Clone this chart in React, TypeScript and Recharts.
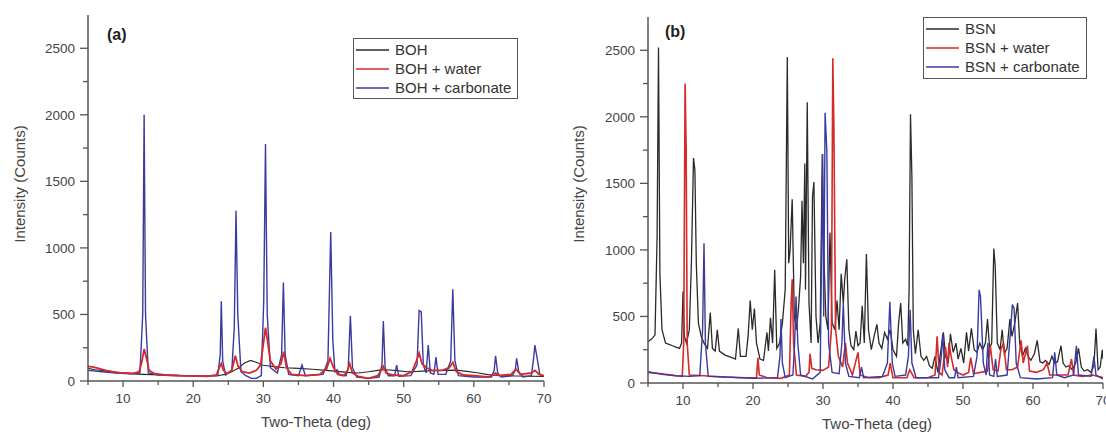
import React from 'react';
import { LineChart, Line, XAxis, YAxis, Legend } from 'recharts';

type Pt = [number, number];

// ---------- axes ----------
const THETA_TICKS = [5, 10, 15, 20, 25, 30, 35, 40, 45, 50, 55, 60, 65, 70];
const COUNT_TICKS = [0, 250, 500, 750, 1000, 1250, 1500, 1750, 2000, 2250, 2500];
const THETA_DOMAIN: [number, number] = [5, 70];
const COUNT_DOMAIN: [number, number] = [0, 2750];
const X_TITLE = 'Two-Theta (deg)';
const Y_TITLE = 'Intensity (Counts)';

// ---------- panel (a) ----------
const BOH: Pt[] = [
  [5, 95], [6, 85], [7, 80], [8, 70], [9, 62], [10, 58], [11, 55], [12, 52], [14, 48], [16, 45], [18, 42],
  [20, 40], [22, 38], [23.5, 40], [24.5, 50], [25.5, 70], [26.5, 100], [27.3, 135], [28.2, 155], [29, 140],
  [29.8, 120], [30.5, 115], [31.5, 108], [33, 100], [35, 95], [37, 88], [39, 80], [40.5, 72], [42, 65],
  [43.5, 60], [45, 70], [46.5, 82], [47.5, 85], [49, 78], [50.5, 70], [52, 72], [54, 78], [56, 80],
  [57.5, 82], [59, 72], [60.5, 62], [62, 48], [64, 40], [66, 38], [68, 36], [70, 35],
];
const BOH_WATER: Pt[] = [
  [5, 110], [5.8, 105], [6.5, 95], [7.5, 80], [8.5, 70], [9.5, 62], [10.5, 60], [11.5, 58], [12.3, 70],
  [12.7, 150], [13.0, 240], [13.3, 180], [13.7, 80], [14.5, 55], [16, 45], [18, 40], [20, 38], [22, 35],
  [23.3, 45], [23.8, 110], [24.0, 130], [24.3, 80], [24.8, 55], [25.5, 80], [26.0, 190], [26.4, 110],
  [27, 70], [28, 60], [29, 80], [29.6, 120], [30.0, 280], [30.3, 400], [30.6, 300], [31.0, 150], [31.8, 90],
  [32.5, 130], [32.9, 220], [33.3, 100], [34, 50], [36, 40], [38, 50], [39.0, 90], [39.5, 170], [40.0, 100],
  [40.6, 50], [41.5, 40], [42.0, 80], [42.3, 130], [42.7, 60], [43.5, 35], [45, 20], [46.3, 40], [46.8, 80],
  [47.1, 110], [47.5, 60], [48.5, 45], [50, 40], [51.2, 70], [51.8, 150], [52.2, 210], [52.6, 130],
  [53.3, 100], [54, 80], [55.5, 80], [56.5, 100], [57.0, 140], [57.5, 70], [58.5, 45], [60, 40], [62, 30],
  [62.8, 45], [63.1, 60], [63.5, 40], [65.3, 50], [66.0, 90], [66.6, 50], [68.2, 60], [68.7, 80], [69.3, 50],
  [70, 40],
];
const BOH_CARB: Pt[] = [
  [5, 80], [7, 70], [9, 60], [11, 55], [12.4, 60], [12.8, 500], [13.0, 2000], [13.2, 500], [13.6, 60],
  [15, 45], [18, 40], [21, 35], [23.5, 40], [23.85, 200], [24.0, 600], [24.2, 150], [24.6, 45], [25.5, 80],
  [25.85, 400], [26.1, 1280], [26.35, 500], [26.8, 70], [27.5, 40], [28.3, 20], [29.0, 20], [29.7, 40],
  [30.05, 600], [30.3, 1780], [30.55, 500], [31.0, 100], [32.0, 60], [32.6, 200], [32.85, 740], [33.1, 200],
  [33.6, 50], [35.0, 40], [35.5, 120], [36.0, 40], [38.5, 50], [39.2, 150], [39.6, 1120], [39.9, 300],
  [40.2, 70], [40.5, 85], [40.8, 50], [41.8, 40], [42.1, 100], [42.4, 490], [42.7, 100], [43.3, 30],
  [45, 20], [46.5, 30], [46.9, 120], [47.1, 450], [47.35, 100], [47.8, 40], [48.7, 40], [49.0, 120],
  [49.3, 35], [51.0, 40], [51.9, 120], [52.2, 530], [52.5, 520], [52.8, 120], [53.2, 60], [53.5, 270],
  [53.8, 60], [54.3, 50], [54.6, 180], [54.9, 50], [56.0, 50], [56.7, 150], [57.0, 690], [57.3, 150],
  [57.8, 40], [60, 30], [62.5, 30], [62.9, 80], [63.1, 190], [63.4, 60], [63.9, 30], [65.5, 40], [65.9, 80],
  [66.1, 170], [66.4, 70], [67, 30], [68.2, 40], [68.5, 160], [68.7, 270], [69.0, 180], [69.4, 50], [70, 35],
];

// ---------- panel (b) ----------
const BSN: Pt[] = [
  [5, 310], [5.5, 330], [6.0, 360], [6.3, 1100], [6.5, 2520], [6.7, 820], [7.0, 400], [7.5, 300], [8.0, 290],
  [8.5, 280], [9.0, 270], [9.5, 260], [9.8, 300], [10.0, 690], [10.2, 350], [10.5, 300], [10.9, 400],
  [11.2, 900], [11.5, 1690], [11.7, 1600], [11.9, 900], [12.2, 450], [12.6, 350], [13.0, 300], [13.5, 260],
  [13.9, 530], [14.2, 260], [14.6, 240], [14.9, 400], [15.2, 240], [16, 210], [17, 190], [17.5, 180],
  [17.9, 410], [18.2, 200], [19.0, 200], [19.3, 350], [19.6, 620], [19.9, 400], [20.2, 560], [20.5, 300],
  [21, 180], [21.5, 170], [22.0, 380], [22.2, 240], [22.5, 490], [22.8, 300], [23.1, 850], [23.4, 260],
  [23.8, 300], [24.2, 450], [24.6, 700], [24.9, 2450], [25.1, 900], [25.3, 1000], [25.6, 1380], [25.9, 500],
  [26.2, 400], [26.5, 560], [26.8, 800], [27.0, 1370], [27.2, 900], [27.4, 1650], [27.5, 700], [27.75, 2110],
  [28.0, 600], [28.3, 300], [28.5, 1400], [28.7, 1510], [29.0, 500], [29.3, 300], [29.6, 450], [29.9, 1720],
  [30.1, 1000], [30.4, 500], [30.7, 400], [31.0, 1130], [31.3, 450], [31.7, 400], [32.0, 620], [32.3, 400],
  [32.6, 820], [32.9, 600], [33.1, 780], [33.4, 930], [33.7, 400], [34.0, 280], [34.4, 250], [34.7, 390],
  [35.0, 280], [35.3, 300], [35.6, 580], [35.9, 300], [36.2, 970], [36.5, 400], [36.9, 250], [37.3, 350],
  [37.7, 440], [38.0, 300], [38.4, 260], [38.8, 380], [39.2, 330], [39.6, 400], [40.0, 250], [40.5, 200],
  [40.8, 450], [41.1, 600], [41.4, 300], [41.8, 330], [42.1, 280], [42.3, 700], [42.5, 2020], [42.7, 1550],
  [42.9, 400], [43.2, 220], [43.6, 400], [44.0, 200], [44.4, 170], [44.8, 200], [45.2, 130], [45.6, 110],
  [46.0, 200], [46.4, 80], [46.8, 230], [47.2, 380], [47.5, 200], [47.9, 150], [48.2, 370], [48.6, 230],
  [49.0, 300], [49.3, 180], [49.7, 260], [50.1, 150], [50.5, 380], [50.8, 240], [51.2, 410], [51.6, 250],
  [52.0, 230], [52.4, 300], [52.8, 250], [53.2, 300], [53.5, 480], [53.8, 260], [54.1, 300], [54.4, 1010],
  [54.6, 880], [54.9, 300], [55.3, 250], [55.6, 400], [55.9, 220], [56.3, 260], [56.7, 480], [57.0, 350],
  [57.4, 450], [57.8, 600], [58.1, 300], [58.5, 200], [58.9, 260], [59.3, 200], [59.7, 170], [60.2, 220],
  [60.6, 320], [61.0, 160], [61.4, 150], [61.8, 170], [62.3, 140], [62.7, 200], [63.1, 150], [63.5, 160],
  [64.0, 280], [64.3, 150], [64.7, 120], [65.1, 130], [65.6, 100], [66.1, 150], [66.5, 260], [66.9, 120],
  [67.3, 90], [67.8, 100], [68.3, 80], [68.7, 130], [69.0, 410], [69.3, 100], [69.6, 120], [69.9, 250],
  [70, 180],
];
const BSN_WATER: Pt[] = [
  [5, 80], [7, 70], [9, 55], [9.9, 50], [10.1, 300], [10.3, 2250], [10.45, 1760], [10.6, 300], [10.9, 60],
  [13, 55], [16, 45], [19, 40], [20.5, 40], [20.7, 190], [20.9, 60], [22, 40], [24, 35], [25.2, 60],
  [25.45, 600], [25.6, 780], [25.8, 300], [26.2, 60], [27.5, 50], [28.0, 80], [28.15, 220], [28.4, 110],
  [29, 100], [30, 95], [30.8, 120], [31.2, 400], [31.4, 2440], [31.55, 1940], [31.8, 400], [32.2, 200],
  [32.8, 120], [33.2, 300], [33.5, 150], [34.2, 60], [35.0, 230], [35.3, 60], [36.5, 40], [38, 40],
  [39.3, 60], [39.6, 150], [40, 40], [42, 40], [42.4, 100], [43, 40], [45, 40], [46.0, 60], [46.3, 350],
  [46.6, 80], [47.0, 60], [47.5, 270], [47.8, 120], [48.0, 300], [48.3, 200], [48.7, 100], [49.2, 80],
  [50, 60], [50.8, 80], [51.1, 190], [51.5, 70], [52.5, 80], [53.5, 90], [53.9, 280], [54.3, 100],
  [55.0, 90], [55.4, 250], [55.8, 300], [56.2, 100], [57.0, 100], [57.8, 120], [58.3, 320], [58.6, 150],
  [59.2, 280], [59.5, 90], [60.5, 80], [61.5, 100], [62.0, 150], [62.4, 60], [63.5, 60], [65.0, 60],
  [65.5, 180], [65.8, 60], [67, 50], [68.5, 60], [70, 40],
];
const BSN_CARB: Pt[] = [
  [5, 85], [7, 65], [9, 55], [11, 50], [12.4, 55], [12.8, 400], [13.0, 1050], [13.2, 300], [13.6, 50],
  [16, 45], [20, 35], [23.5, 40], [23.85, 200], [24.0, 480], [24.2, 150], [24.6, 40], [25.7, 60],
  [25.95, 300], [26.15, 650], [26.4, 300], [26.8, 60], [28.5, 30], [29.6, 80], [29.95, 1720], [30.1, 500],
  [30.3, 2030], [30.55, 1740], [30.8, 300], [31.3, 80], [32.3, 70], [32.7, 300], [32.9, 600], [33.2, 150],
  [33.7, 50], [35.2, 40], [35.5, 120], [35.8, 40], [38.5, 50], [39.2, 150], [39.55, 610], [39.9, 150],
  [40.3, 50], [41.8, 60], [42.2, 200], [42.45, 550], [42.7, 150], [43.3, 40], [46.5, 40], [46.9, 200],
  [47.1, 370], [47.4, 100], [48.0, 40], [48.8, 40], [49.05, 120], [49.3, 40], [51.5, 50], [52.0, 200],
  [52.3, 700], [52.5, 650], [52.9, 150], [53.3, 60], [53.55, 300], [53.8, 60], [54.4, 50], [54.65, 180],
  [54.9, 50], [56.3, 60], [56.8, 400], [57.05, 590], [57.3, 560], [57.6, 150], [58.2, 40], [60.5, 30],
  [62.8, 40], [63.1, 230], [63.4, 60], [64.5, 40], [65.8, 60], [66.2, 280], [66.5, 60], [68.3, 50],
  [68.7, 200], [69.0, 60], [70, 30],
];

// ---------- styling ----------
const FONT = '"Liberation Sans", Arial, sans-serif';
const AXIS_COLOR = '#555';
const TEXT_COLOR = '#444';
const BLACK = '#2a2a2a';
const RED = '#d42a2a';
const BLUE = '#3a3aa0';

const toRows = (pts: Pt[]) => pts.map(([theta, counts]) => ({ theta, counts }));

const X_TICK_SIZE = 6;
const X_TICK_MARGIN = 6;
const Y_TICK_SIZE = 8;
const Y_TICK_MARGIN = 5;

const XTick = (p: any) => {
  const { x, y, payload } = p;
  const v = payload.value as number;
  const major = v % 10 === 0;
  const y0 = y - X_TICK_SIZE - X_TICK_MARGIN;
  return (
    <g>
      <line x1={x} x2={x} y1={y0} y2={y0 + (major ? X_TICK_SIZE : 4)} stroke={AXIS_COLOR} strokeWidth={1.3} />
      {major && (
        <text x={x} y={y} dy="0.71em" textAnchor="middle" fontSize={13.5} fill={TEXT_COLOR} fontFamily={FONT}>
          {v}
        </text>
      )}
    </g>
  );
};

const YTick = (p: any) => {
  const { x, y, payload } = p;
  const v = payload.value as number;
  const major = v % 500 === 0;
  const x0 = x + Y_TICK_SIZE + Y_TICK_MARGIN;
  return (
    <g>
      <line x1={x0} x2={x0 - (major ? Y_TICK_SIZE : 5)} y1={y} y2={y} stroke={AXIS_COLOR} strokeWidth={1.3} />
      {major && (
        <text x={x} y={y} dy="0.355em" textAnchor="end" fontSize={13.5} fill={TEXT_COLOR} fontFamily={FONT}>
          {v}
        </text>
      )}
    </g>
  );
};

type Series = { name: string; pts: Pt[]; color: string; width: number };

const LegendBox = ({ items, w, h }: { items: Series[]; w: number; h: number }) => (
  <div
    style={{
      position: 'relative', width: w, height: h, border: '1.5px solid #555', boxSizing: 'border-box',
      background: '#fff', fontFamily: FONT, fontSize: 15, color: '#333',
    }}
  >
    {items.map((it, i) => (
      <div
        key={it.name}
        style={{
          position: 'absolute', left: 2, top: 1 + i * 19, height: 19, display: 'flex', alignItems: 'center',
          whiteSpace: 'nowrap', lineHeight: '19px',
        }}
      >
        <svg width={33} height={4} style={{ marginRight: 6, display: 'block' }}>
          <line x1={0} x2={33} y1={2} y2={2} stroke={it.color} strokeWidth={1.6} />
        </svg>
        <span>{it.name}</span>
      </div>
    ))}
  </div>
);

type PanelProps = {
  left: number; width: number; marginTop: number; marginRight: number; xAxisHeight: number;
  series: Series[]; drawOrder: number[]; letter: string; letterX: number; letterY: number;
  legendX: number; legendY: number; legendW: number; legendH: number;
  yTitleX: number; yTitleY: number; xTitleX: number; xTitleY: number;
};

const Panel = (pp: PanelProps) => (
  <div style={{ position: 'absolute', left: pp.left, top: 0, width: pp.width, height: 432 }}>
    <LineChart width={pp.width} height={432} margin={{ top: pp.marginTop, right: pp.marginRight, bottom: 0, left: 0 }}>
      <XAxis
        type="number" dataKey="theta" domain={THETA_DOMAIN} ticks={THETA_TICKS} interval={0} allowDataOverflow
        height={pp.xAxisHeight} tickLine={false} tickSize={X_TICK_SIZE} tickMargin={X_TICK_MARGIN}
        axisLine={{ stroke: AXIS_COLOR, strokeWidth: 1.5 }} tick={(p: any) => <XTick {...p} />}
        label={{
          content: () => (
            <text x={pp.xTitleX} y={pp.xTitleY} dy="0.355em" textAnchor="middle" fontSize={15} fill={TEXT_COLOR} fontFamily={FONT}>
              {X_TITLE}
            </text>
          ),
        }}
      />
      <YAxis
        type="number" domain={COUNT_DOMAIN} ticks={COUNT_TICKS} interval={0} allowDataOverflow width={88}
        tickLine={false} tickSize={Y_TICK_SIZE} tickMargin={Y_TICK_MARGIN}
        axisLine={{ stroke: AXIS_COLOR, strokeWidth: 1.5 }} tick={(p: any) => <YTick {...p} />}
        label={{
          content: () => (
            <text
              x={pp.yTitleX} y={pp.yTitleY} dy="0.355em" textAnchor="middle" fontSize={15} fill={TEXT_COLOR}
              fontFamily={FONT} transform={`rotate(-90, ${pp.yTitleX}, ${pp.yTitleY})`}
            >
              {Y_TITLE}
            </text>
          ),
        }}
      />
      <Legend
        layout="vertical" align="center" verticalAlign="middle"
        wrapperStyle={{ left: pp.legendX, top: pp.legendY, width: pp.legendW, height: pp.legendH }}
        content={() => <LegendBox items={pp.series} w={pp.legendW} h={pp.legendH} />}
      />
      {pp.drawOrder.map((i) => {
        const s = pp.series[i];
        return (
          <Line
            key={s.name} data={toRows(s.pts)} dataKey="counts" name={s.name} type="linear" stroke={s.color}
            strokeWidth={s.width} dot={false} activeDot={false} isAnimationActive={false}
          />
        );
      })}
    </LineChart>
    <div
      style={{
        position: 'absolute', left: pp.letterX, top: pp.letterY - 9, lineHeight: '18px', fontSize: 16,
        fontWeight: 'bold', fontFamily: FONT, color: '#222',
      }}
    >
      {pp.letter}
    </div>
  </div>
);

export default function App() {
  const seriesA: Series[] = [
    { name: 'BOH', pts: BOH, color: BLACK, width: 1.1 },
    { name: 'BOH + water', pts: BOH_WATER, color: RED, width: 1.8 },
    { name: 'BOH + carbonate', pts: BOH_CARB, color: BLUE, width: 1.4 },
  ];
  const seriesB: Series[] = [
    { name: 'BSN', pts: BSN, color: BLACK, width: 1.3 },
    { name: 'BSN + water', pts: BSN_WATER, color: RED, width: 1.6 },
    { name: 'BSN + carbonate', pts: BSN_CARB, color: BLUE, width: 1.4 },
  ];
  return (
    <div style={{ position: 'absolute', left: 0, top: 0, width: 1106, height: 432, overflow: 'hidden', background: '#fff' }}>
      <Panel
        left={0} width={560} marginTop={15} marginRight={16} xAxisHeight={51} series={seriesA} drawOrder={[0, 2, 1]}
        letter="(a)" letterX={107} letterY={35}
        legendX={353} legendY={38} legendW={165} legendH={61}
        yTitleX={20} yTitleY={184} xTitleX={316} xTitleY={422}
      />
      <Panel
        left={560} width={546} marginTop={17} marginRight={3} xAxisHeight={49} series={seriesB} drawOrder={[0, 1, 2]}
        letter="(b)" letterX={105} letterY={32}
        legendX={363} legendY={17} legendW={164} legendH={62}
        yTitleX={19} yTitleY={184} xTitleX={317} xTitleY={424}
      />
    </div>
  );
}
